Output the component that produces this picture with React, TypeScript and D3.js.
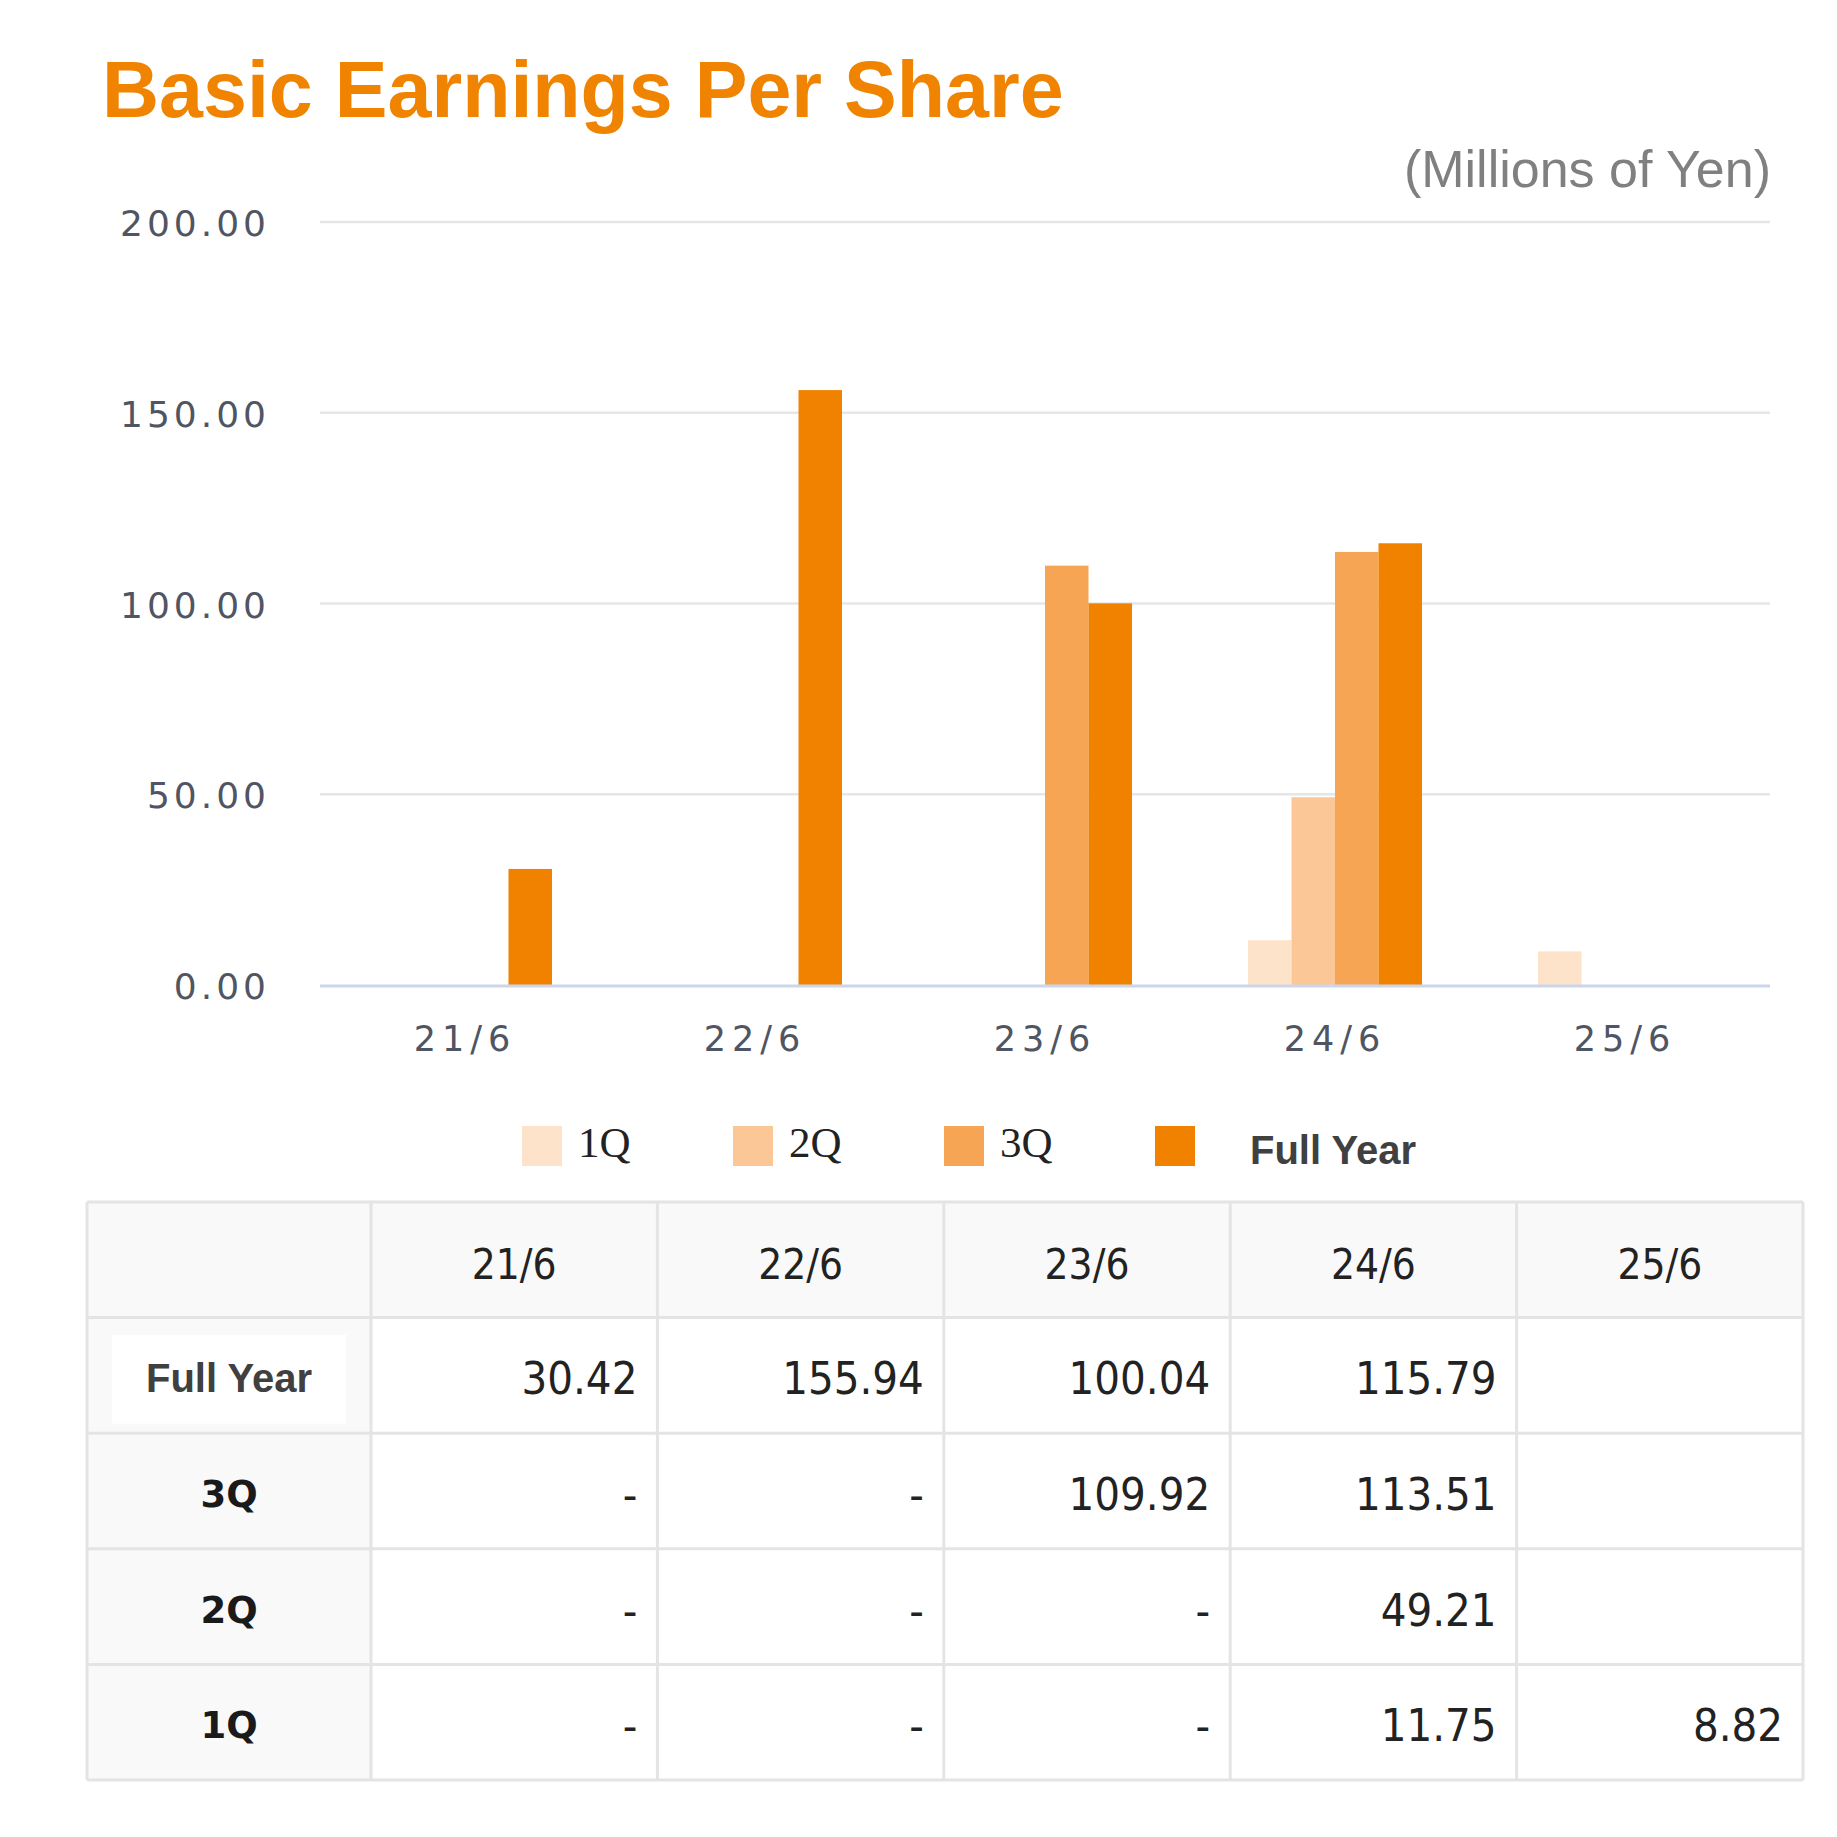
import React from "react";
import * as d3 from "d3";

const categories = ["21/6", "22/6", "23/6", "24/6", "25/6"];
const seriesNames = ["1Q", "2Q", "3Q", "Full Year"];
const q1 = [null, null, null, 11.75, 8.82];
const q2 = [null, null, null, 49.21, null];
const q3 = [null, null, 109.92, 113.51, null];
const fullYear = [30.42, 155.94, 100.04, 115.79, null];
const yTicks = [0, 50, 100, 150, 200];
const seriesColors = ["#fee3cb", "#fbc797", "#f6a555", "#f18200"];

const W = 1837;
const H = 1837;
const sans = "'Liberation Sans', Arial, sans-serif";
const tickFont = "'DejaVu Sans', Verdana, sans-serif";
const cond = "'DejaVu Sans Condensed', 'Liberation Sans Narrow', 'DejaVu Sans', sans-serif";

export default function App() {
  const seriesValues = [q1, q2, q3, fullYear];
  const x = d3.scaleBand<string>().domain(categories).range([320, 1770]).paddingInner(0.4).paddingOuter(0.2);
  const xi = d3.scaleBand<string>().domain(seriesNames).range([0, x.bandwidth()]);
  const y = d3.scaleLinear().domain([0, 200]).range([985, 222]);
  const fmt = d3.format(".2f");

  // table geometry
  const tLeft = 87;
  const firstW = 284;
  const tRight = 1803;
  const tTop = 1202;
  const rowH = 115.6;
  const colX = d3.scaleBand<string>().domain(categories).range([tLeft + firstW, tRight]);
  const tableRows = [
    { label: "Full Year", vals: fullYear },
    { label: "3Q", vals: q3 },
    { label: "2Q", vals: q2 },
    { label: "1Q", vals: q1 },
  ];
  const nRows = tableRows.length + 1;
  const tBottom = tTop + rowH * nRows;
  const lastIdx = categories.length - 1;

  const legendStart = 522;
  const legendStep = 211;

  return (
    <svg width={W} height={H} style={{ position: "absolute", left: 0, top: 0, background: "#fff" }}>
      <rect x={0} y={0} width={W} height={H} fill="#fff" />
      <text x={102} y={117} fontFamily={sans} fontWeight="bold" fontSize={79} fill="#f08300">
        Basic Earnings Per Share
      </text>
      <text x={1771} y={187} textAnchor="end" fontFamily={sans} fontSize={52} fill="#808080">
        (Millions of Yen)
      </text>

      {/* gridlines */}
      {yTicks.filter((t) => t !== 0).map((t) => (
        <line key={t} x1={320} x2={1770} y1={y(t)} y2={y(t)} stroke="#e6e6e6" strokeWidth={2.5} />
      ))}
      {/* y labels */}
      {yTicks.map((t) => (
        <text key={t} x={270} y={y(t) + 14} textAnchor="end" fontFamily={tickFont} fontSize={36} letterSpacing={4} fill="#505563">
          {fmt(t)}
        </text>
      ))}

      {/* bars */}
      {categories.map((c, ci) => (
        <g key={c} transform={`translate(${x(c)},0)`}>
          {seriesNames.map((s, si) => {
            const v = seriesValues[si][ci];
            if (v == null) return null;
            return (
              <rect key={s} x={xi(s)} y={y(v)} width={xi.bandwidth()} height={y(0) - y(v)} fill={seriesColors[si]} />
            );
          })}
        </g>
      ))}
      <line x1={320} x2={1770} y1={y(0) + 1} y2={y(0) + 1} stroke="#ccd6eb" strokeWidth={3} />

      {/* x labels */}
      {categories.map((c) => (
        <text key={c} x={(x(c) as number) + x.bandwidth() / 2} y={1051} textAnchor="middle" fontFamily={tickFont} fontSize={35} letterSpacing={6} fill="#505563">
          {c}
        </text>
      ))}

      {/* legend */}
      {seriesNames.map((s, si) => {
        const lx = legendStart + si * legendStep;
        const isFY = si === 3;
        return (
          <g key={s}>
            <rect x={lx} y={1126} width={40} height={40} fill={seriesColors[si]} />
            {isFY ? (
              <text x={lx + 95} y={1164} fontFamily={sans} fontWeight="bold" fontSize={40} fill="#404040">
                {s}
              </text>
            ) : (
              <text x={lx + 56} y={1157} fontFamily="'Liberation Serif', 'DejaVu Serif', serif" fontSize={43} fill="#222">
                {s}
              </text>
            )}
          </g>
        );
      })}

      {/* table */}
      <rect x={tLeft} y={tTop} width={tRight - tLeft} height={rowH} fill="#f9f9f9" />
      <rect x={tLeft} y={tTop + rowH} width={firstW} height={rowH * (nRows - 1)} fill="#f9f9f9" />
      <rect x={tLeft + 25} y={tTop + rowH + 17} width={firstW - 50} height={89} fill="#ffffff" />
      {d3.range(nRows + 1).map((r) => (
        <line key={"h" + r} x1={tLeft} x2={tRight} y1={tTop + r * rowH} y2={tTop + r * rowH} stroke="#e4e4e4" strokeWidth={3} />
      ))}
      <line x1={tLeft} x2={tLeft} y1={tTop} y2={tBottom} stroke="#e4e4e4" strokeWidth={3} />
      {categories.map((c) => (
        <line key={"v" + c} x1={colX(c)} x2={colX(c)} y1={tTop} y2={tBottom} stroke="#e4e4e4" strokeWidth={3} />
      ))}
      <line x1={tRight} x2={tRight} y1={tTop} y2={tBottom} stroke="#e4e4e4" strokeWidth={3} />

      {categories.map((c) => (
        <text key={"hd" + c} x={(colX(c) as number) + colX.bandwidth() / 2} y={tTop + rowH / 2 + 19} textAnchor="middle" fontFamily={cond} fontSize={42} fill="#222">
          {c}
        </text>
      ))}
      {tableRows.map((row, ri) => {
        const cy = tTop + rowH * (ri + 1) + rowH / 2;
        return (
          <g key={row.label}>
            {ri === 0 ? (
              <text x={tLeft + firstW / 2} y={cy + 17} textAnchor="middle" fontFamily={sans} fontWeight="bold" fontSize={40} fill="#404040">
                {row.label}
              </text>
            ) : (
              <text x={tLeft + firstW / 2} y={cy + 16} textAnchor="middle" fontFamily={tickFont} fontWeight="bold" fontSize={37} fill="#1a1a1a">
                {row.label}
              </text>
            )}
            {categories.map((c, ci) => {
              const v = row.vals[ci];
              const txt = v != null ? fmt(v) : ci === lastIdx ? "" : "-";
              return (
                <text key={c} x={(colX(c) as number) + colX.bandwidth() - 20} y={cy + 19} textAnchor="end" fontFamily={cond} fontSize={45} fill="#222">
                  {txt}
                </text>
              );
            })}
          </g>
        );
      })}
    </svg>
  );
}
